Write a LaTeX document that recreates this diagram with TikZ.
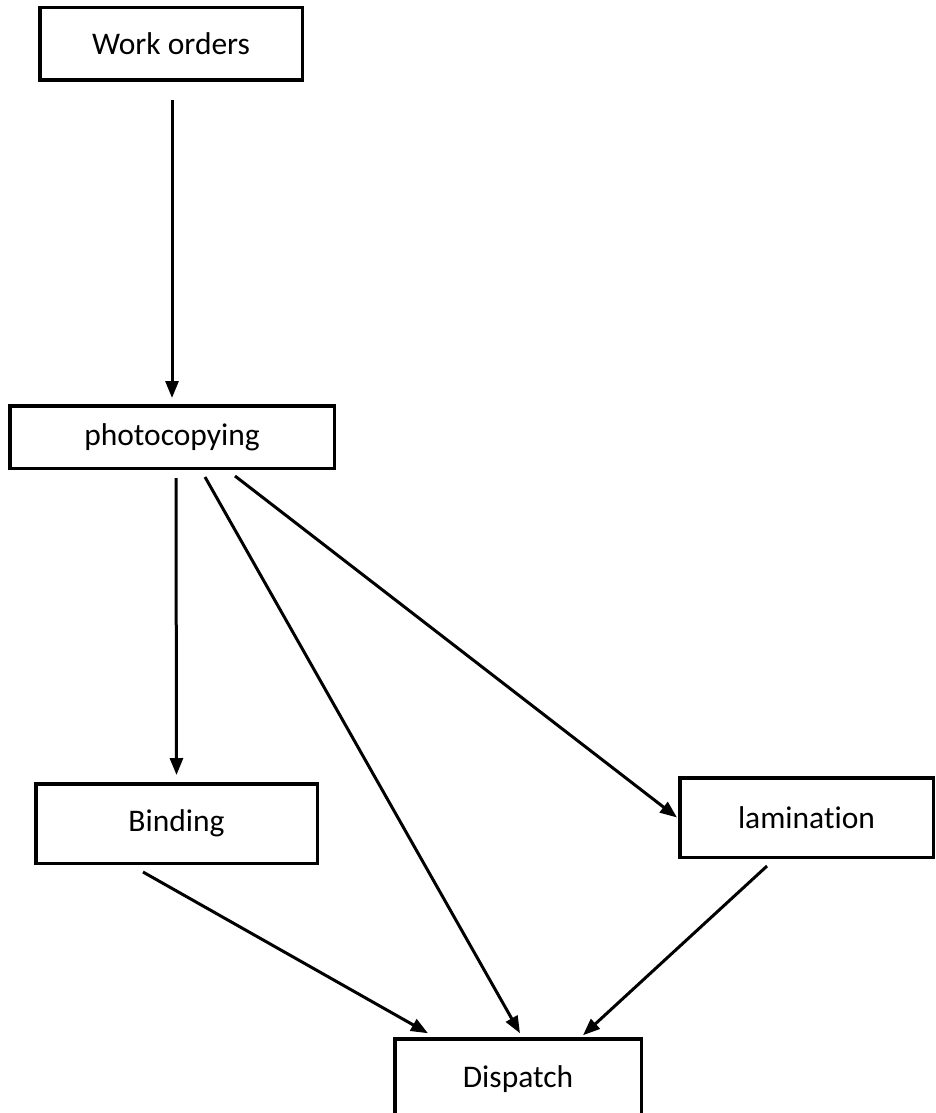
\documentclass[tikz,border=0pt]{standalone}
\usepackage{fontspec}
\setmainfont{Carlito}[Ligatures=NoCommon]
\usetikzlibrary{arrows.meta}
\begin{document}
\begin{tikzpicture}[x=1pt,y=-1pt,
  box/.style={draw=black,line width=3.5pt,fill=white,inner sep=0pt,
    font=\fontsize{31.5}{38}\selectfont},
  arr/.style={draw=black,line width=3pt,-{Triangle[length=17pt,width=13pt]}}]
\useasboundingbox (0,0) rectangle (936,1113);
\node[box,minimum width=262.5pt,minimum height=72.5pt] (wo) at (171,44) {Work orders};
\node[box,minimum width=324.5pt,minimum height=62.5pt] (pc) at (172,437) {photocopying};
\node[box,minimum width=281.5pt,minimum height=79.5pt] (bd) at (176.5,823.5) {Binding};
\node[box,minimum width=253.5pt,minimum height=79.5pt] (lm) at (806.5,817.5) {lamination};
\node[box,minimum width=246.5pt,minimum height=80pt] (ds) at (518,1079) {Dispatch};
\draw[arr] ([xshift=1pt,yshift=-18pt]wo.south) -- ([xshift=0pt,yshift=6pt]pc.north);
\draw[arr] ([xshift=4pt,yshift=-8pt]pc.south) -- ([yshift=7pt]bd.north);
\draw[arr] ([xshift=33pt,yshift=-7pt]pc.south) -- ([xshift=2pt,yshift=4pt]ds.north);
\draw[arr] ([xshift=63pt,yshift=-6pt]pc.south) -- ([xshift=-1pt]lm.west);
\draw[arr] ([xshift=-33.5pt,yshift=-7pt]bd.south) -- ([xshift=-90pt,yshift=4pt]ds.north);
\draw[arr] ([xshift=-39.5pt,yshift=-7pt]lm.south) -- ([xshift=65pt,yshift=2pt]ds.north);
\end{tikzpicture}
\end{document}
